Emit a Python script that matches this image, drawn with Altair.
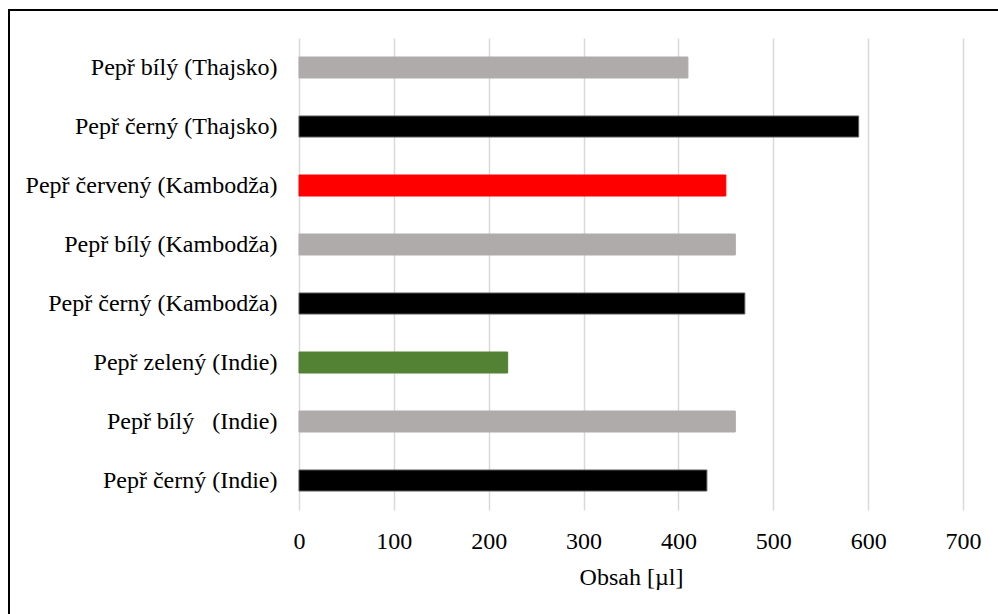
import altair as alt
import pandas as pd

# Pepper samples, listed top to bottom as drawn
vzorky = [
    "Pepř bílý (Thajsko)",
    "Pepř černý (Thajsko)",
    "Pepř červený (Kambodža)",
    "Pepř bílý (Kambodža)",
    "Pepř černý (Kambodža)",
    "Pepř zelený (Indie)",
    "Pepř bílý\u00a0\u00a0 (Indie)",
    "Pepř černý (Indie)",
]
druh = ["bílý", "černý", "červený", "bílý", "černý", "zelený", "bílý", "černý"]
obsah = [410, 590, 450, 460, 470, 220, 460, 430]

df = pd.DataFrame({"vzorek": vzorky, "druh": druh, "obsah": obsah})

FONT = "Liberation Serif"
druhy = ["bílý", "černý", "červený", "zelený"]
barvy = ["#AFABAB", "#000000", "#FF0000", "#548235"]
obrysy = ["#AFABAB", "#595959", "#FF0000", "#548235"]

bars = (
    alt.Chart(df)
    .mark_bar(size=21, strokeWidth=1)
    .encode(
        y=alt.Y(
            "vzorek:N",
            sort=vzorky,
            title=None,
            scale=alt.Scale(paddingInner=0, paddingOuter=0),
            axis=alt.Axis(
                domain=False,
                ticks=False,
                grid=False,
                labelPadding=22,
                labelFont=FONT,
                labelFontSize=24,
                labelColor="#000000",
                labelLimit=400,
            ),
        ),
        x=alt.X(
            "obsah:Q",
            title="Obsah [µl]",
            scale=alt.Scale(domain=[0, 700], nice=False),
            axis=alt.Axis(
                values=[0, 100, 200, 300, 400, 500, 600, 700],
                domain=False,
                ticks=False,
                grid=True,
                gridColor="#d9d9d9",
                gridWidth=1.5,
                labelPadding=19,
                labelFlush=False,
                labelFont=FONT,
                labelFontSize=24,
                labelColor="#000000",
                titleFont=FONT,
                titleFontSize=24,
                titleFontWeight="normal",
                titleColor="#000000",
                titleBaseline="alphabetic",
                titleY=74,
            ),
        ),
        color=alt.Color(
            "druh:N", scale=alt.Scale(domain=druhy, range=barvy), legend=None
        ),
        stroke=alt.Stroke(
            "druh:N", scale=alt.Scale(domain=druhy, range=obrysy), legend=None
        ),
    )
)

# Outer frame around the whole figure
ramecek = (
    alt.Chart(alt.Data(values=[{}]))
    .mark_rect(fill=None, stroke="#000000", strokeWidth=2, clip=False)
    .encode(
        x=alt.value(-290),
        x2=alt.value(710),
        y=alt.value(-28),
        y2=alt.value(590),
    )
)

chart = (
    alt.layer(bars, ramecek)
    .properties(
        width=664,
        height=472,
        padding={"left": 299, "top": 38, "right": 35, "bottom": 104},
        autosize=alt.AutoSizeParams(type="none"),
        background="#ffffff",
    )
    .configure_view(stroke=None)
)

chart.save("out.html", embed_options={"renderer": "svg", "actions": False})
